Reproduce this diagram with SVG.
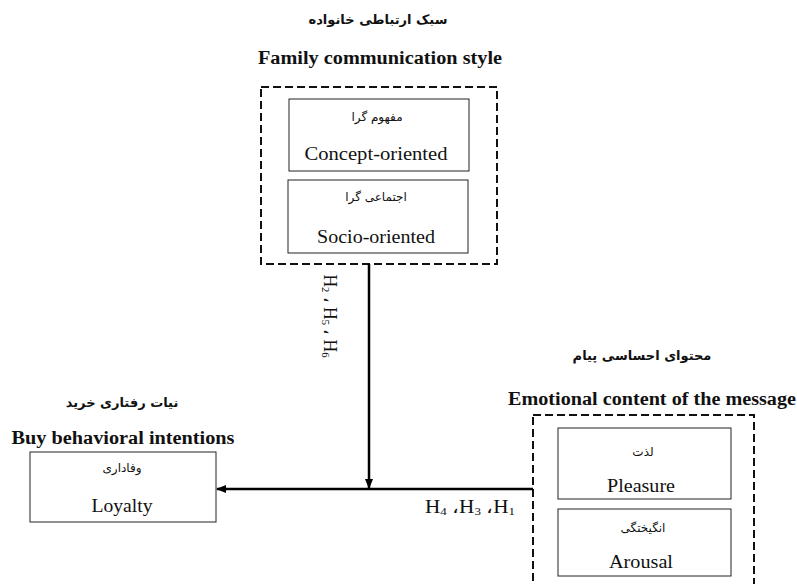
<svg xmlns="http://www.w3.org/2000/svg" width="797" height="584" viewBox="0 0 797 584">
<style>
text{font-family:"Liberation Serif","DejaVu Serif","Noto Sans",serif;fill:#111;text-anchor:middle}
.fa{font-family:"DejaVu Sans","Noto Sans",sans-serif;font-size:12px}
.fab{font-family:"DejaVu Sans","Noto Sans",sans-serif;font-size:13px;font-weight:bold}
.title{font-size:18px;font-weight:bold}
.en{font-size:18px}
.dash{fill:none;stroke:#111;stroke-width:2;stroke-dasharray:8,4}
.box{fill:#fff;stroke:#222;stroke-width:1}
.conn{stroke:#000;stroke-width:2.5;fill:none}
.sub{font-size:11px}
</style>
<defs>
<marker id="ah" markerWidth="10" markerHeight="8" refX="9" refY="4" orient="auto" markerUnits="userSpaceOnUse">
<path d="M0,0 L10,4 L0,8 Z" fill="#000"/>
</marker>
</defs>

<g id="family">
<text class="fab" x="378" y="24" direction="rtl">سبک ارتباطی خانواده</text>
<text class="title" x="380" y="64" textLength="244" lengthAdjust="spacingAndGlyphs">Family communication style</text>
<rect class="dash" x="261" y="87" width="236" height="177"/>
<g id="concept">
<rect class="box" x="289" y="99" width="180" height="72"/>
<text class="fa" x="377" y="121" direction="rtl">مفهوم گرا</text>
<text class="en" x="376" y="160" textLength="143" lengthAdjust="spacingAndGlyphs">Concept-oriented</text>
</g>
<g id="socio">
<rect class="box" x="288" y="180" width="180" height="73"/>
<text class="fa" x="376" y="201" direction="rtl">اجتماعی گرا</text>
<text class="en" x="376" y="243" textLength="118" lengthAdjust="spacingAndGlyphs">Socio-oriented</text>
</g>
</g>

<g id="intentions">
<text class="fab" x="122" y="407" direction="rtl">نیات رفتاری خرید</text>
<text class="title" x="123" y="444" textLength="223" lengthAdjust="spacingAndGlyphs">Buy behavioral intentions</text>
<g id="loyalty">
<rect class="box" x="30" y="452" width="186" height="70"/>
<text class="fa" x="122" y="472" direction="rtl">وفاداری</text>
<text class="en" x="122" y="512" textLength="61" lengthAdjust="spacingAndGlyphs">Loyalty</text>
</g>
</g>

<g id="emotional">
<text class="fab" x="642" y="360" direction="rtl">محتوای احساسی پیام</text>
<text class="title" x="652" y="405" textLength="288" lengthAdjust="spacingAndGlyphs">Emotional content of the message</text>
<rect class="dash" x="533" y="415" width="221" height="180"/>
<g id="pleasure">
<rect class="box" x="558" y="428" width="173" height="71"/>
<text class="fa" x="643" y="456" direction="rtl">لذت</text>
<text class="en" x="641" y="492" textLength="68" lengthAdjust="spacingAndGlyphs">Pleasure</text>
</g>
<g id="arousal">
<rect class="box" x="558" y="509" width="173" height="67"/>
<text class="fa" x="643" y="532" direction="rtl">انگیختگی</text>
<text class="en" x="641" y="568" textLength="64" lengthAdjust="spacingAndGlyphs">Arousal</text>
</g>
</g>

<g id="connectors">
<line class="conn" x1="369" y1="264" x2="369" y2="488" marker-end="url(#ah)"/>
<line class="conn" x1="533" y1="489" x2="217" y2="489" marker-end="url(#ah)"/>
<text class="en" x="470" y="513" direction="ltr" textLength="90" lengthAdjust="spacingAndGlyphs">H<tspan class="sub" dy="2">4</tspan><tspan dy="-2"> ،H</tspan><tspan class="sub" dy="2">3</tspan><tspan dy="-2"> ،H</tspan><tspan class="sub" dy="2">1</tspan></text>
<text class="en" transform="translate(324,316) rotate(90)" direction="ltr" textLength="83" lengthAdjust="spacingAndGlyphs">H<tspan class="sub" dy="2">2</tspan><tspan dy="-2"> ، H</tspan><tspan class="sub" dy="2">5</tspan><tspan dy="-2"> ، H</tspan><tspan class="sub" dy="2">6</tspan></text>
</g>
</svg>
